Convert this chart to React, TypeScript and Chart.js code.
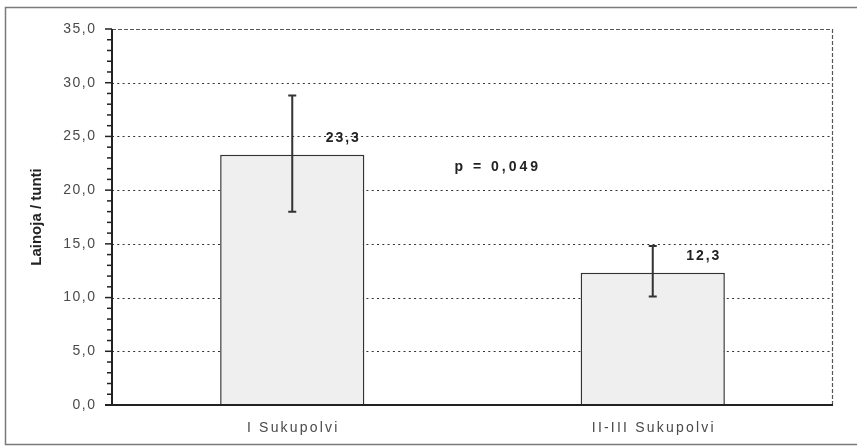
import React, { useEffect, useRef } from "react";
import { Chart, registerables } from "chart.js";

Chart.register(...registerables);

const categories = ["I Sukupolvi", "II-III Sukupolvi"];
const means = [23.3, 12.3];
const errLow = [18.0, 10.1];
const errHigh = [28.8, 14.8];
const valueLabels = ["23,3", "12,3"];
const yTickValues = [0, 5, 10, 15, 20, 25, 30, 35];
const yTickLabels = ["0,0", "5,0", "10,0", "15,0", "20,0", "25,0", "30,0", "35,0"];
const yTitle = "Lainoja / tunti";
const pLabel = "p = 0,049";
const pLabelCategoryPos = 0.57;
const pLabelValue = 22.1;

const FONT = '"Liberation Sans", Arial, sans-serif';

const customPlugin = {
  id: "customDraw",
  beforeDatasetsDraw(chart: any) {
    const { ctx, chartArea: a, scales } = chart;
    const y = scales.y;
    ctx.save();
    // outer frame
    ctx.strokeStyle = "#7a7a7a";
    ctx.lineWidth = 1.5;
    ctx.strokeRect(5.5, 7.5, 880, 437);

    // dotted grid lines
    ctx.strokeStyle = "#333";
    ctx.lineWidth = 1.2;
    ctx.setLineDash([2, 3.3]);
    yTickValues.forEach((v) => {
      if (v <= 0 || v >= 35) return;
      const py = Math.round(y.getPixelForValue(v)) + 0.5;
      ctx.beginPath();
      ctx.moveTo(a.left, py);
      ctx.lineTo(a.right, py);
      ctx.stroke();
    });
    // top & right border dashed
    ctx.setLineDash([4, 2]);
    ctx.strokeStyle = "#555";
    const topY = Math.round(a.top) + 0.5;
    const rightX = Math.round(a.right) - 0.5;
    ctx.beginPath();
    ctx.moveTo(a.left, topY);
    ctx.lineTo(rightX, topY);
    ctx.lineTo(rightX, a.bottom);
    ctx.stroke();
    ctx.setLineDash([]);

    // y axis
    ctx.strokeStyle = "#222";
    ctx.lineWidth = 2;
    ctx.beginPath();
    ctx.moveTo(a.left, a.top);
    ctx.lineTo(a.left, a.bottom);
    ctx.stroke();
    // ticks
    ctx.lineWidth = 1.5;
    for (let v = 0; v <= 35; v++) {
      const len = v % 5 === 0 ? 7 : 5;
      const py = y.getPixelForValue(v);
      ctx.beginPath();
      ctx.moveTo(a.left - len, py);
      ctx.lineTo(a.left, py);
      ctx.stroke();
    }
    // tick labels
    ctx.font = `14px ${FONT}`;
    (ctx as any).letterSpacing = "1.5px";
    ctx.fillStyle = "#4a4a4a";
    ctx.textAlign = "right";
    ctx.textBaseline = "middle";
    yTickValues.forEach((v, i) => {
      ctx.fillText(yTickLabels[i], a.left - 15.5, y.getPixelForValue(v));
    });
    ctx.restore();
  },
  afterDatasetsDraw(chart: any) {
    const { ctx, chartArea: a, scales } = chart;
    const x = scales.x;
    const y = scales.y;
    ctx.save();
    // x axis line
    ctx.strokeStyle = "#222";
    ctx.lineWidth = 2;
    ctx.beginPath();
    ctx.moveTo(a.left - 7, a.bottom);
    ctx.lineTo(a.right, a.bottom);
    ctx.stroke();

    // error bars
    ctx.lineWidth = 2;
    ctx.strokeStyle = "#333";
    categories.forEach((_, i) => {
      const px = x.getPixelForValue(i);
      const pHi = y.getPixelForValue(errHigh[i]);
      const pLo = y.getPixelForValue(errLow[i]);
      ctx.beginPath();
      ctx.moveTo(px, pHi);
      ctx.lineTo(px, pLo);
      ctx.moveTo(px - 4, pHi);
      ctx.lineTo(px + 4, pHi);
      ctx.moveTo(px - 4, pLo);
      ctx.lineTo(px + 4, pLo);
      ctx.stroke();
    });

    // value labels
    ctx.font = `bold 14px ${FONT}`;
    (ctx as any).letterSpacing = "2px";
    ctx.fillStyle = "#222";
    ctx.textAlign = "center";
    ctx.textBaseline = "bottom";
    categories.forEach((_, i) => {
      const px = x.getPixelForValue(i);
      const py = y.getPixelForValue(means[i]);
      ctx.fillText(valueLabels[i], px + 51, py - 10);
    });

    // p label
    (ctx as any).letterSpacing = "3px";
    ctx.textBaseline = "middle";
    ctx.fillText(pLabel, x.getPixelForValue(pLabelCategoryPos), y.getPixelForValue(pLabelValue));

    // x labels
    ctx.font = `14px ${FONT}`;
    (ctx as any).letterSpacing = "2.2px";
    ctx.fillStyle = "#4a4a4a";
    categories.forEach((c, i) => {
      ctx.fillText(c, x.getPixelForValue(i) + 1, a.bottom + 23);
    });

    // y title
    (ctx as any).letterSpacing = "0px";
    ctx.font = `bold 15px ${FONT}`;
    ctx.fillStyle = "#222";
    ctx.translate(37, (a.top + a.bottom) / 2);
    ctx.rotate(-Math.PI / 2);
    ctx.fillText(yTitle, 0, 0);
    ctx.restore();
  },
};

export default function App() {
  const ref = useRef<HTMLCanvasElement | null>(null);
  useEffect(() => {
    if (!ref.current) return;
    const chart = new Chart(ref.current, {
      type: "bar",
      data: {
        labels: categories,
        datasets: [
          {
            data: means,
            backgroundColor: "#efefef",
            borderColor: "#333",
            borderWidth: 1.5,
            categoryPercentage: 1,
            barPercentage: 0.4,
          },
        ],
      },
      options: {
        responsive: false,
        animation: false,
        devicePixelRatio: 1,
        layout: { padding: { left: 0, right: 24, top: 29, bottom: 0 } },
        plugins: { legend: { display: false }, tooltip: { enabled: false } },
        scales: {
          x: {
            grid: { display: false },
            border: { display: false },
            ticks: { display: false },
            afterFit: (s: any) => {
              s.height = 41;
            },
          },
          y: {
            min: 0,
            max: 35,
            grid: { display: false },
            border: { display: false },
            ticks: { display: false, stepSize: 5 },
            afterFit: (s: any) => {
              s.width = 112;
            },
          },
        },
      },
      plugins: [customPlugin],
    });
    return () => chart.destroy();
  }, []);
  return (
    <div style={{ position: "absolute", left: 0, top: 0, width: 857, height: 446, background: "#fff" }}>
      <canvas ref={ref} width={857} height={446} style={{ display: "block" }} />
    </div>
  );
}
